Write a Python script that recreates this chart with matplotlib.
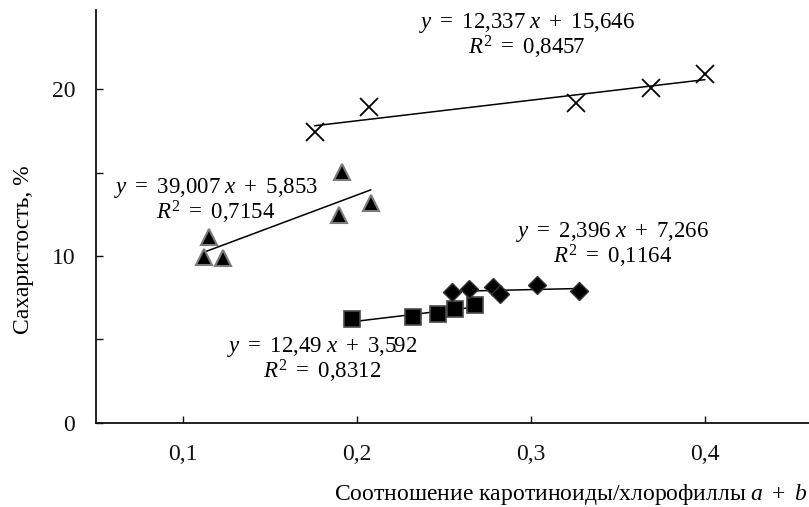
import numpy as np
import matplotlib
matplotlib.use("Agg")
import matplotlib.pyplot as plt

plt.rcParams['font.family'] = ['Liberation Serif', 'DejaVu Serif']
plt.rcParams['mathtext.fontset'] = 'custom'
plt.rcParams['mathtext.rm'] = 'Liberation Serif'
plt.rcParams['mathtext.it'] = 'Liberation Serif:italic'

# --- data ---
cross_x = [0.176, 0.207, 0.326, 0.369, 0.400]
cross_y = [17.46, 18.96, 19.16, 20.10, 20.92]

tri_x = [0.1124, 0.115, 0.123, 0.190, 0.1917, 0.208]
tri_y = [9.96, 11.16, 9.86, 12.46, 15.06, 13.20]

sq_x = [0.1972, 0.2323, 0.247, 0.2562, 0.268]
sq_y = [6.20, 6.32, 6.50, 6.80, 7.06]

dia_x = [0.2547, 0.2648, 0.2786, 0.2825, 0.3039, 0.3275]
dia_y = [7.86, 8.00, 8.16, 7.72, 8.26, 7.92]

# trend-line coefficients (slope, intercept) as printed
cross_fit = [12.337, 15.646]
tri_fit = [39.007, 5.853]
sq_fit = [12.49, 3.592]
dia_fit = [2.396, 7.266]

cross_lbl = [r"$y\ =\ 12{,}337\ x\ +\ 15{,}646$", r"$R^2\ =\ 0{,}8457$"]
tri_lbl = [r"$y\ =\ 39{,}007\ x\ +\ 5{,}853$", r"$R^2\ =\ 0{,}7154$"]
sq_lbl = [r"$y\ =\ 12{,}49\ x\ +\ 3{,}592$", r"$R^2\ =\ 0{,}8312$"]
dia_lbl = [r"$y\ =\ 2{,}396\ x\ +\ 7{,}266$", r"$R^2\ =\ 0{,}1164$"]

x_ticks = [0.1, 0.2, 0.3, 0.4]
x_tick_labels = ["0,1", "0,2", "0,3", "0,4"]
y_ticks = [0, 5, 10, 15, 20]
y_tick_labels = ["0", "", "10", "", "20"]

xlabel = r"Соотношение каротиноиды/хлорофиллы $a\ +\ b$"
ylabel = "Сахаристость, %"

# --- figure ---
W, H = 809, 507
fig = plt.figure(figsize=(W / 100, H / 100), dpi=100)
ax = fig.add_axes([96 / W, (H - 422.7) / H, (W - 96) / W, 412.7 / H])
ax.set_xlim(0.0501, 0.460)
ax.set_ylim(0, 24.76)

def trend(xs, fit):
    xx = np.array([min(xs), max(xs)])
    return xx, fit[0] * xx + fit[1]

for xs, fit in [(cross_x, cross_fit), (tri_x, tri_fit), (sq_x, sq_fit), (dia_x, dia_fit)]:
    lx, ly = trend(xs, fit)
    ax.plot(lx, ly, color='black', lw=1.1, zorder=2)

ax.plot(cross_x, cross_y, ls='none', marker='x', ms=12.5, mew=1.3, color='black', zorder=3)
ax.plot(tri_x, tri_y, ls='none', marker='^', ms=12, mfc='black', mec='#7a7a7a', mew=1.5, zorder=3)
ax.plot(sq_x, sq_y, ls='none', marker='s', ms=11.5, mfc='black', mec='#4a4a4a', mew=1.2, zorder=3)
ax.plot(dia_x, dia_y, ls='none', marker='D', ms=9, mfc='black', mec='#333333', mew=1.0, zorder=4)

fs_ann = 16.5
def ann(lines, x, y):
    ax.text(x, y, "\n".join(lines), ha='center', va='center', fontsize=fs_ann,
            linespacing=0.95, multialignment='center', zorder=5)

ann(cross_lbl, 0.298, 23.2)
ann(tri_lbl, 0.119, 13.3)
ann(sq_lbl, 0.180, 3.76)
ann(dia_lbl, 0.347, 10.65)

for s in ['top', 'right']:
    ax.spines[s].set_visible(False)
for s in ['left', 'bottom']:
    ax.spines[s].set_linewidth(1.3)
    ax.spines[s].set_color('#111111')

ax.set_xticks(x_ticks)
ax.set_xticklabels(x_tick_labels)
ax.set_yticks(y_ticks)
ax.set_yticklabels(y_tick_labels)
ax.tick_params(axis='both', direction='in', length=5, width=1.0, labelsize=17, colors='#111111')
ax.tick_params(axis='x', pad=15)
ax.tick_params(axis='y', pad=15)

fig.text(0.998, 1 - 500 / H, xlabel, ha='right', va='baseline', fontsize=17)
fig.text(24 / W, 1 - 250 / H, ylabel, ha='center', va='center', rotation=90, fontsize=17)

fig.savefig("out.png", dpi=100)
